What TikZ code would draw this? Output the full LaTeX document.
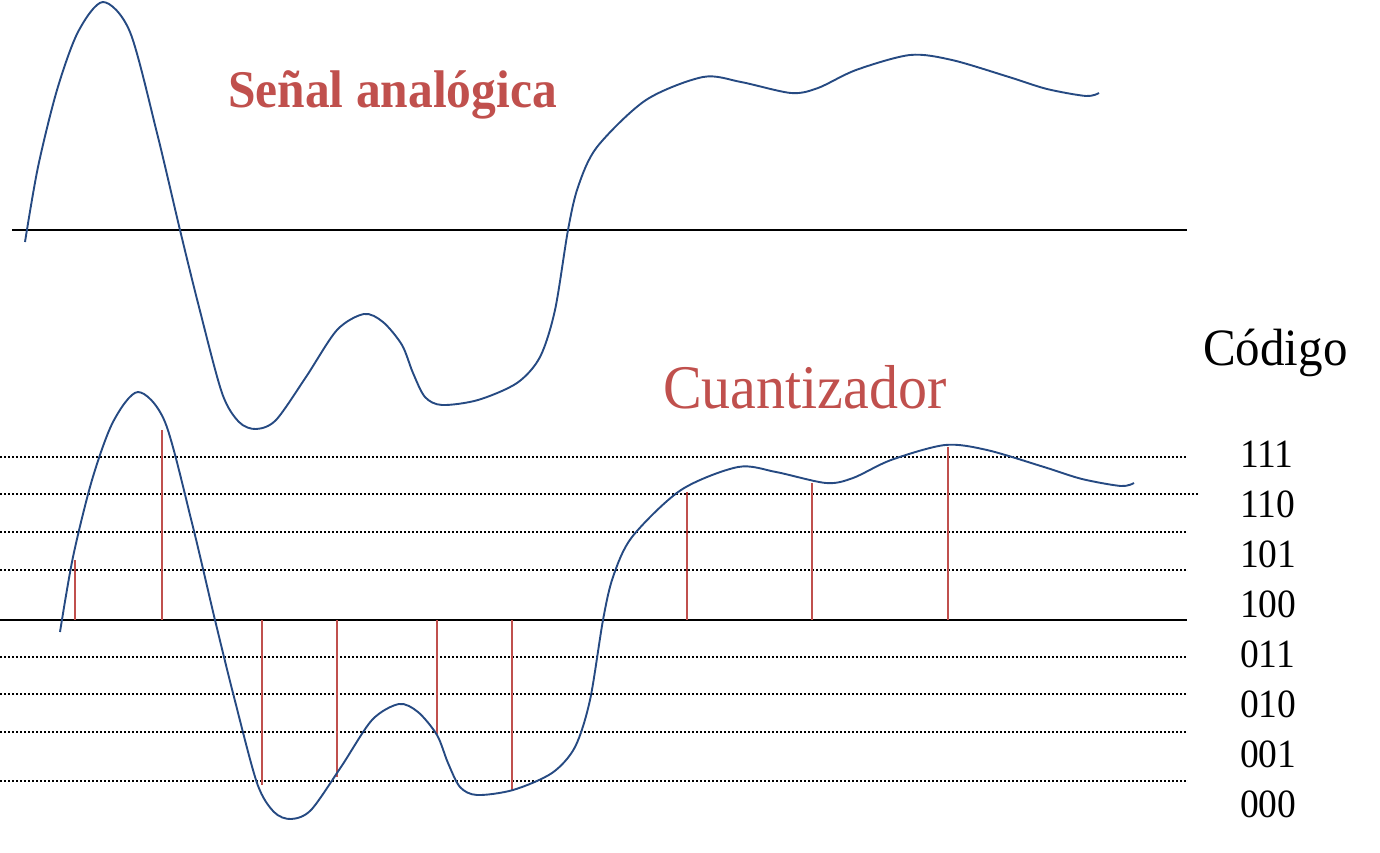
\documentclass[tikz,border=0pt]{standalone}
\usepackage{fontspec}
\setmainfont{Liberation Serif}
\usetikzlibrary{positioning}

\definecolor{rojo}{RGB}{192,80,77}
\definecolor{azul}{RGB}{38,74,130}

\newcommand{\alto}[1]{\scalebox{1}[1.07]{#1}}

\begin{document}
\begin{tikzpicture}[
    x=1pt, y=-1pt,
    senal/.style={draw=azul, line width=1.9pt},
    eje/.style={draw=black, line width=2.2pt},
    nivel/.style={draw=black, line width=2pt, dash pattern=on 2pt off 2pt},
    muestra/.style={draw=rojo, line width=1.8pt},
    titulo/.style={anchor=base west, inner sep=0pt, text=rojo},
    codigo/.style={anchor=base west, inner sep=0pt, font=\fontsize{37.5}{40}\selectfont}
]
\useasboundingbox (0,0) rectangle (1380,852);

\def\curva{plot[smooth, tension=0.5] coordinates {(25,242) (38,167) (57,90) (78,32) (103,2) (130,32) (157,133) (180,230) (199,307) (222,393) (239,422) (256,429) (276,420) (306,377) (337,330) (364,314) (383,322) (402,345) (413,373) (425,397) (442,405) (478,400) (517,383) (540,357) (555,310) (568,230) (578,187) (597,147) (646,100) (703,77) (741,82) (791,93) (818,88) (856,70) (910,55) (952,60) (1009,77) (1047,89) (1086,96) (1099,93)}}

% senal analogica
\draw[eje] (12,230) -- (1187,230);
\draw[senal] \curva;
\node (analog) [titulo, font=\bfseries\fontsize{49.5}{55}\selectfont] at (228,107) {\alto{Señal analógica}};

% cuantizador
\foreach \y in {457,532,570,657,694,732,781}
    \draw[nivel] (0,\y) -- (1187,\y);
\draw[nivel] (0,494) -- (1198,494);
\draw[eje] (0,620) -- (1187,620);

\foreach \x/\y in {75/560, 162/430, 262/785, 337/777, 437/734, 512/791, 687/492, 812/483, 948/447}
    \draw[muestra] (\x,620) -- (\x,\y);

\draw[senal, shift={(35,390)}] \curva;
\node (cuant) [titulo, font=\fontsize{58}{64}\selectfont] at (663,408) {\alto{Cuantizador}};

% codigos
\node (cod) [anchor=base west, inner sep=0pt, font=\fontsize{49}{55}\selectfont] at (1203,365) {\alto{Código}};
\foreach \c [count=\i from 0] in {111,110,101,100,011,010,001,000}
    \node (cod-\i) [codigo] at (1240,467+50*\i) {\alto{\c}};

\end{tikzpicture}
\end{document}
